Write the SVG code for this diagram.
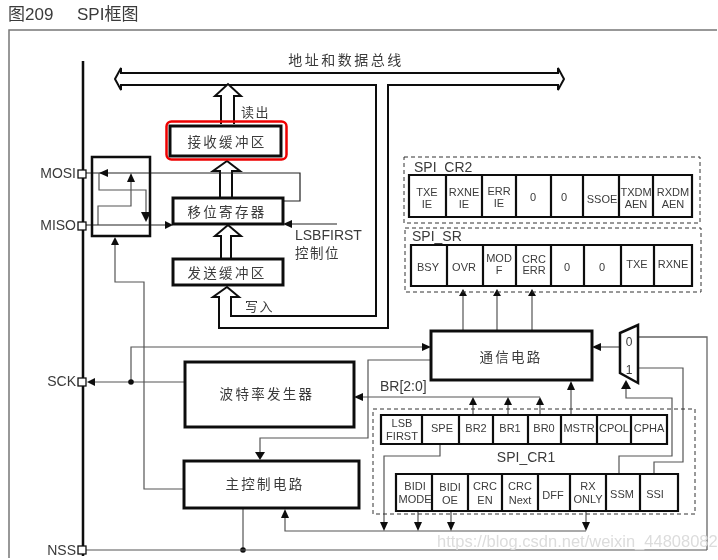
<svg xmlns="http://www.w3.org/2000/svg" width="718" height="560" viewBox="0 0 718 560">
<style>
text{font-family:"Liberation Sans","Noto Sans CJK SC",sans-serif;fill:#3a3a3a}
.cn{font-size:13.500px;letter-spacing:2.3px;text-anchor:middle}
.r{font-size:11px;text-anchor:middle}
.pin{font-size:14px;text-anchor:end}
.lab{font-size:14px}
.t{fill:none;stroke:#555;stroke-width:1.2}
.k{fill:none;stroke:#222;stroke-width:1.2}
.b{fill:#fff;stroke:#111;stroke-width:3}
.h{fill:#fff;stroke:#111;stroke-width:2}
.reg{fill:#fff;stroke:#111;stroke-width:2.2}
.dash{fill:none;stroke:#333;stroke-width:1;stroke-dasharray:4 3}
.pinbox{fill:#fff;stroke:#111;stroke-width:1.3}
.a{fill:#111}
</style>
<defs><filter id="soft" x="0" y="0" width="100%" height="100%"><feGaussianBlur stdDeviation="0.4"/></filter></defs>
<rect width="718" height="560" fill="#fff"/>
<g filter="url(#soft)">
<path d="M9 558V30H717" fill="none" stroke="#777" stroke-width="1.5"/>
<g id="title"><text x="8" y="20" font-size="17">图209</text><text x="77" y="20" font-size="17">SPI框图</text></g>
<path id="bus-spine" d="M83 61V556" fill="none" stroke="#111" stroke-width="2.5"/>
<g id="connectors">
<path class="h" d="M115 79L121 68V73H558V68L564 79L558 90V85H388V328H219V297H213L227 287L239 297H231V316H376V85H121V90Z"/>
<path class="h" d="M221 124V96H215L228 84L241 96H234V124"/>
<path class="h" d="M220 198V171H213L227 161L240 171H232V198"/>
<path class="h" d="M221 258V236H215L228 225L241 236H231V258"/>
<path class="k" d="M86 173H300V201H283"/><path class="a" d="M99 173L108 169V177Z"/>
<path class="t" d="M99 173V190H146V212"/><path class="a" d="M146 222L141 212H151Z"/>
<path class="t" d="M98 225V206H131V182"/><path class="a" d="M131 173L127 182H135Z"/>
<path class="k" d="M86 225H165"/><path class="a" d="M173 225L165 221V229Z"/>
<path class="k" d="M292 224H337"/><path class="a" d="M283 224L292 220V228Z"/>
<path class="t" d="M115 245V282H144V489H184"/><path class="a" d="M115 237L111 245H119Z"/>
<path class="t" d="M463 296V331M497 296V331M532 296V331"/>
<path class="a" d="M463 289L459 296H467ZM497 289L493 296H501ZM532 289L528 296H536Z"/>
<path class="t" d="M620 347H601"/><path class="a" d="M592 347L601 343V351Z"/>
<path d="M638 337H707V550" fill="none" stroke="#666" stroke-width="1.3"/>
<path class="t" d="M638 368H683V462H654V474"/>
<path class="t" d="M626 389V398H672V456H619V474"/><path class="a" d="M626 380L621 389H631Z"/>
<path class="t" d="M131 382V347H422"/><path class="a" d="M431 347L422 343V351Z"/>
<path class="t" d="M431 360H368V438H260V452"/><path class="a" d="M260 460L255 452H265Z"/>
<path class="t" d="M95 382H185"/><path class="a" d="M87 382L95 378V386Z"/><circle class="a" cx="131" cy="382" r="2.8"/>
<path class="t" d="M363 397H540M473 405V415M508 405V415M540 405V415"/><path class="a" d="M354 397L363 393V401ZM473 397L469 405H477ZM508 397L504 405H512ZM540 397L536 405H544Z"/>
<path class="t" d="M571 390V415"/><path class="a" d="M571 381L567 390H575Z"/>
<path class="t" d="M243 508V550"/><circle class="a" cx="243" cy="550" r="2.8"/>
<path class="t" d="M86 550H707"/>
<path class="t" d="M285 518V531H586"/><path class="a" d="M285 509L281 518H289Z"/>
<path class="t" d="M440 445V456H384V522M418 511V522M451 511V522M586 511V522"/>
<path class="a" d="M384 531L380 522H388ZM418 531L414 522H422ZM451 531L447 522H455ZM586 531L582 522H590Z"/>
</g>
<g id="switch"><rect x="92" y="157" width="58" height="79" fill="none" stroke="#111" stroke-width="2.5"/></g>
<g id="pin-mosi"><rect class="pinbox" x="78" y="170" width="8" height="8"/><text class="pin" x="76" y="178">MOSI</text></g>
<g id="pin-miso"><rect class="pinbox" x="78" y="222" width="8" height="8"/><text class="pin" x="76" y="230">MISO</text></g>
<g id="pin-sck"><rect class="pinbox" x="78" y="378" width="8" height="8"/><text class="pin" x="76" y="386">SCK</text></g>
<g id="pin-nss"><rect class="pinbox" x="78" y="546" width="8" height="8"/><text class="pin" x="76" y="555">NSS</text></g>
<text x="346" y="65" font-size="14" letter-spacing="2.500" text-anchor="middle">地址和数据总线</text>
<text x="241" y="117" font-size="13" letter-spacing="1.500">读出</text>
<text x="245" y="311" font-size="13" letter-spacing="1.500">写入</text>
<g id="rx-buffer"><rect class="b" x="170" y="126" width="111" height="30"/><rect x="166.500" y="121.500" width="120" height="38" rx="5" fill="none" stroke="#e00" stroke-width="2.500"/><text class="cn" x="227" y="147">接收缓冲区</text></g>
<g id="shift-reg"><rect class="b" x="173" y="198" width="110" height="26" stroke-width="2"/><text class="cn" x="227" y="217">移位寄存器</text></g>
<g id="tx-buffer"><rect class="b" x="173" y="259" width="110" height="26"/><text class="cn" x="227" y="278">发送缓冲区</text></g>
<text class="lab" x="295" y="240">LSBFIRST</text><text x="295" y="258" font-size="13.500" letter-spacing="1.500">控制位</text>
<g id="comm"><rect class="b" x="431" y="331" width="161" height="49"/><text class="cn" x="511" y="362">通信电路</text></g>
<g id="mux"><path d="M620 333L638 325V383L620 373Z" fill="#fff" stroke="#111" stroke-width="2.500"/><text x="629" y="346" font-size="12" text-anchor="middle">0</text><text x="629" y="374" font-size="12" text-anchor="middle">1</text></g>
<g id="baud"><rect class="b" x="185" y="362" width="169" height="65"/><text class="cn" x="267" y="399">波特率发生器</text></g>
<g id="master"><rect class="b" x="184" y="461" width="175" height="47"/><text class="cn" x="265" y="489">主控制电路</text></g>
<text class="lab" x="380" y="391">BR[2:0]</text>
<g id="spi-cr2"><rect class="dash" x="404" y="157" width="296" height="66"/><text class="lab" x="414" y="172">SPI_CR2</text><path class="reg" d="M409 175H692V217H409ZM446 175V217M482 175V217M516 175V217M551 175V217M583 175V217M619 175V217M653 175V217"/>
<text class="r" x="427" y="196">TXE</text><text class="r" x="427" y="208">IE</text><text class="r" x="464" y="196">RXNE</text><text class="r" x="464" y="208">IE</text><text class="r" x="499" y="195">ERR</text><text class="r" x="499" y="207">IE</text><text class="r" x="533" y="201">0</text><text class="r" x="564" y="201">0</text><text class="r" x="602" y="203">SSOE</text><text class="r" x="636" y="196">TXDM</text><text class="r" x="673" y="196">RXDM</text><text class="r" x="636" y="208">AEN</text><text class="r" x="673" y="208">AEN</text></g>
<g id="spi-sr"><rect class="dash" x="405" y="228" width="296" height="64"/><text class="lab" x="412" y="241">SPI_SR</text><path class="reg" d="M411 245H692V286H411ZM447 245V286M483 245V286M516 245V286M551 245V286M584 245V286M621 245V286M654 245V286"/>
<text class="r" x="428" y="271">BSY</text><text class="r" x="464" y="271">OVR</text><text class="r" x="499" y="262">MOD</text><text class="r" x="499" y="274">F</text><text class="r" x="534" y="263">CRC</text><text class="r" x="534" y="274">ERR</text><text class="r" x="567" y="271">0</text><text class="r" x="602" y="271">0</text><text class="r" x="637" y="268">TXE</text><text class="r" x="673" y="268">RXNE</text></g>
<g id="spi-cr1"><rect class="dash" x="373" y="409" width="322" height="105"/><text class="lab" x="526" y="462" text-anchor="middle">SPI_CR1</text>
<path class="reg" d="M381 415H667V444H381ZM422 415V444M459 415V444M493 415V444M528 415V444M561 415V444M597 415V444M631 415V444"/>
<path class="reg" d="M396 474H678V511H396ZM432 474V511M468 474V511M502 474V511M538 474V511M570 474V511M606 474V511M640 474V511"/>
<text class="r" x="402" y="427">LSB</text><text class="r" x="402" y="440">FIRST</text><text class="r" x="442" y="432">SPE</text><text class="r" x="476" y="432">BR2</text><text class="r" x="510" y="432">BR1</text><text class="r" x="544" y="432">BR0</text><text class="r" x="579" y="432">MSTR</text><text class="r" x="614" y="432">CPOL</text><text class="r" x="649" y="432">CPHA</text>
<text class="r" x="415" y="490">BIDI</text><text class="r" x="415" y="503">MODE</text><text class="r" x="450" y="491">BIDI</text><text class="r" x="450" y="504">OE</text><text class="r" x="485" y="490">CRC</text><text class="r" x="485" y="504">EN</text><text class="r" x="520" y="490">CRC</text><text class="r" x="520" y="504">Next</text><text class="r" x="553" y="499">DFF</text><text class="r" x="588" y="490">RX</text><text class="r" x="588" y="503">ONLY</text><text class="r" x="622" y="498">SSM</text><text class="r" x="655" y="498">SSI</text></g>
<text x="437" y="547" font-size="16.500" style="fill:#dcdcdc">https://blog.csdn.net/weixin_44808082</text>
</g>
</svg>
